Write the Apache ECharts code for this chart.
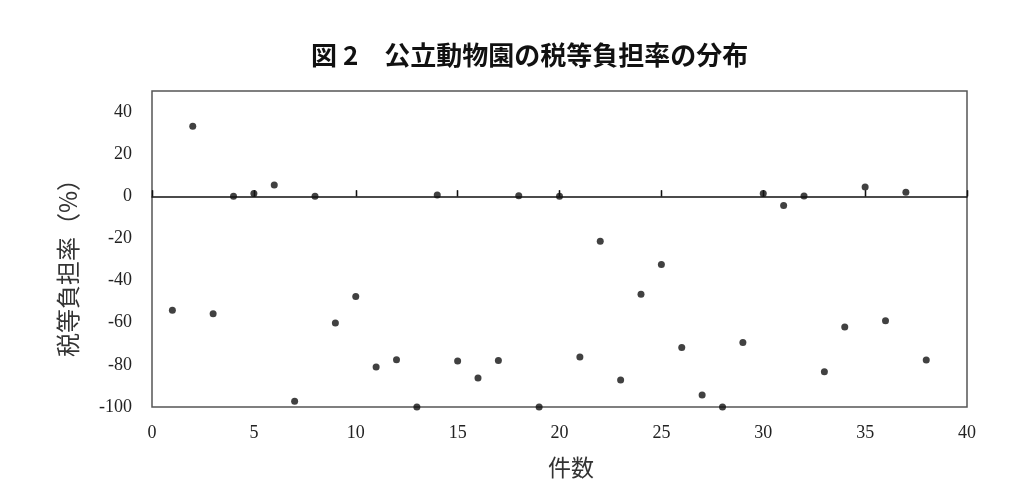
<!DOCTYPE html>
<html>
<head>
<meta charset="utf-8">
<script src="https://cdn.jsdelivr.net/npm/echarts@6/dist/echarts.min.js"></script>
<style>
html,body{margin:0;padding:0;background:#fff;}
#chart{width:1033px;height:496px;}
</style>
</head>
<body>
<div id="chart"></div>
<script>
var counts = [1,2,3,4,5,6,7,8,9,10,11,12,13,14,15,16,17,18,19,20,21,22,23,24,25,26,27,28,29,30,31,32,33,34,35,36,37,38];
var taxRates = [-54.1,33.3,-55.7,0,1.4,5.4,-97.3,0,-60.1,-47.6,-81.0,-77.6,-100,0.6,-78.2,-86.2,-77.9,0.3,-100,0,
                -76.3,-21.3,-87.2,-46.5,-32.3,-71.7,-94.3,-100,-69.4,1.3,-4.3,0.2,-83.3,-62.0,4.4,-59.1,1.9,-77.7];
var titleText = '図 2　公立動物園の税等負担率の分布';
var xName = '件数';
var yName = '税等負担率（%）';

var points = counts.map(function (c, i) { return [c, taxRates[i]]; });
var serif = '"Liberation Serif", "DejaVu Serif", serif';
var cjk = '"Noto Sans CJK JP", "Noto Sans", sans-serif';

var chart = echarts.init(document.getElementById('chart'));
chart.setOption({
  animation: false,
  backgroundColor: '#fff',
  title: {
    text: titleText,
    left: 306,
    top: 37,
    textStyle: { fontFamily: cjk, fontWeight: 'bold', fontSize: 26, color: '#111' }
  },
  grid: {
    left: 152, right: 66, top: 91, bottom: 89,
    show: true, borderColor: '#555', borderWidth: 1.5, backgroundColor: 'transparent'
  },
  xAxis: [
    {
      type: 'value', min: 0, max: 40, interval: 5, position: 'bottom',
      axisLine: { show: false, onZero: false },
      axisTick: { show: false },
      splitLine: { show: false },
      axisLabel: { fontFamily: serif, fontSize: 18, color: '#222', margin: 17 },
      name: xName, nameLocation: 'middle', nameGap: 49,
      nameTextStyle: { fontFamily: cjk, fontSize: 23, color: '#333', padding: [0, 0, 0, 23] }
    },
    {
      type: 'value', min: 0, max: 40, interval: 5, position: 'top',
      axisLine: { show: true, onZero: true, onZeroAxisIndex: 0, lineStyle: { color: '#111', width: 1.5 } },
      axisTick: { show: true, inside: false, length: 6, lineStyle: { color: '#111', width: 1.3 } },
      splitLine: { show: false },
      axisLabel: { show: false }
    },
    {
      type: 'value', min: 0, max: 40, interval: 5, position: 'top',
      axisLine: { show: false, onZero: true, onZeroAxisIndex: 0 },
      axisTick: { show: true, inside: false, length: 6, lineStyle: { color: '#111', width: 1.3 } },
      splitLine: { show: false },
      axisLabel: { show: false }
    }
  ],
  yAxis: {
    type: 'value', min: -100, max: 50, interval: 20,
    axisLine: { show: false, onZero: false },
    axisTick: { show: false },
    splitLine: { show: false },
    axisLabel: { fontFamily: serif, fontSize: 18, color: '#222', margin: 20, showMaxLabel: false },
    name: yName, nameLocation: 'middle', nameRotate: 90, nameGap: 72,
    nameTextStyle: { fontFamily: cjk, fontSize: 24, color: '#333', padding: [0, 26, 0, 0] }
  },
  series: [{
    type: 'scatter',
    xAxisIndex: 0,
    data: points,
    symbol: 'circle',
    symbolSize: 7,
    itemStyle: { color: '#111' },
    z: 5
  }]
});
</script>
</body>
</html>
